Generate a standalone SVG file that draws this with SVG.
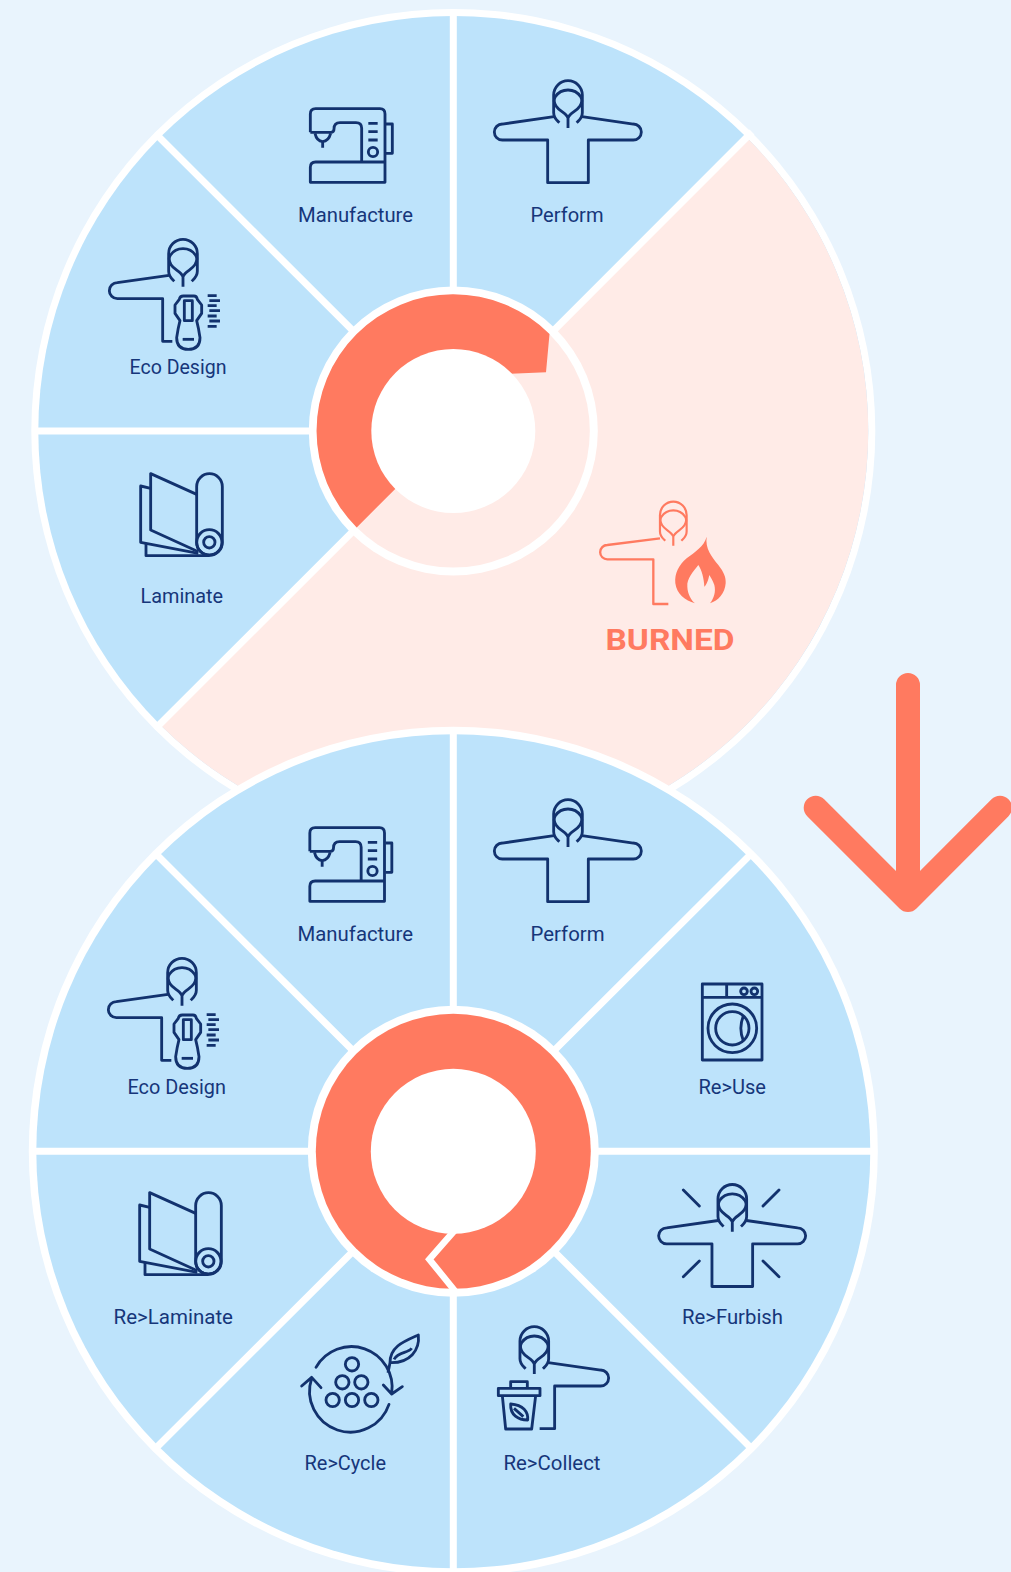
<svg xmlns="http://www.w3.org/2000/svg" xmlns:xlink="http://www.w3.org/1999/xlink" width="1011" height="1572" viewBox="0 0 1011 1572">
<style>
.ln{fill:none;stroke:#12326e;stroke-width:8.5;stroke-linejoin:round}
.co{fill:none;stroke:#ff7a60;stroke-width:7;stroke-linejoin:round}
.wh{stroke:#fff;stroke-width:7;fill:none}
text{font-family:Roboto,"Noto Sans",sans-serif;font-size:20.5px;fill:#16367a}
</style>
<defs>
<g id="hood">
<path d="M-26,126 C-34,118 -43,112 -43,96 V43 A43,43 0 0 1 43,43 V96 C43,112 34,118 26,126"/>
<path d="M0,112 C-6,96 -26,92 -36,76 C-42,66 -42,54 -38,48 C-28,33 -12,28 0,28 C12,28 28,33 38,48 C42,54 42,66 36,76 C26,92 6,96 0,112 Z M0,112 V142"/>
</g>
<g id="armL"><path d="M-42,108 L-197,130 A24,24 0 0 0 -197,178 H-61 V306 H-32"/></g>
<g id="jacket"><use href="#hood"/><path d="M-42,108 L-197,130 A24,24 0 0 0 -197,178 H-61 V306 H61 V178 H196 A24,24 0 0 0 196,130 L42,108"/></g>
<g id="sewing"><g transform="translate(90 70) scale(.33333)" class="ln">
<path d="M661,187 V132 Q661,116 677,116 H870 Q885,116 885,132 V337 H661 V292 Q661,276 677,276 H885"/>
<path d="M661,187 H722 Q732,187 732,177 Q732,158 750,158 H798 Q815,158 815,175 V276"/>
<path d="M888,162 H907 V250 H888"/>
<path d="M835,160 H863 M835,185 H863 M835,210 H863"/>
<circle cx="849" cy="246" r="14"/>
<path d="M675,190 Q680,213 698,215 Q716,213 722,190 M698,215 V233"/>
</g></g>
<g id="lam"><g transform="translate(120 460) scale(.33333)" class="ln">
<rect x="230" y="41" width="77" height="245" rx="38.5"/>
<circle cx="268" cy="247" r="38"/><circle cx="268" cy="247" r="17"/>
<path d="M230,103 L92,41 V210 L235,275"/>
<path d="M92,85 L62,78 V247 L235,280"/>
<path d="M78,252 V287 H268"/>
</g></g>
<g id="eco"><g transform="translate(183 239.3) scale(.33333)" class="ln"><use href="#hood"/><use href="#armL"/></g>
<g transform="translate(90 70) scale(.33333)" class="ln">
<path d="M280,678 H312 Q320,678 322,688 L335,705 V730 L320,752 Q326,775 330,803 Q330,838 295,838 Q260,838 260,803 Q264,775 270,752 L255,730 V705 L268,688 Q270,678 280,678 Z"/>
<path d="M283,752 V692 H307 V752 Z"/>
<path d="M278,808 H312"/>
<path d="M353,677 H380 M358,692 H390 M353,707 H380 M358,722 H390 M353,738 H380 M358,753 H390 M353,769 H380"/>
</g></g>
<g id="perf"><g transform="translate(568 80.7) scale(.33333)" class="ln"><use href="#jacket"/></g></g>
</defs>
<rect id="background" width="1011" height="1572" fill="#e9f4fd"/>

<g id="wheel-top">
<circle cx="453.3" cy="431" r="422" fill="#fff"/>
<circle cx="453.3" cy="431" r="415" fill="#bde3fb"/>
<path d="M453.3,431 L746.8,137.5 A415,415 0 0 1 159.8,724.5 Z" fill="#ffebe7"/>
</g>
<g id="connectors-top" class="wh">
<path d="M453.3,431 V12 M453.3,431 H35 M453.3,431 L155,133 M453.3,431 L752,132 M453.3,431 L155,729"/>
</g>
<g id="hub-top">
<circle cx="453.3" cy="431" r="144.5" fill="#fff"/>
<circle cx="453.3" cy="431" r="136.5" fill="#ffebe7"/>
<path d="M356.7,527.4 A136.5,136.5 0 0 1 549.5,334 L546,372.3 L510.7,373.7 L453.3,431 Z" fill="#ff7a60"/>
<circle cx="453.3" cy="431" r="82" fill="#fff"/>
</g>
<g id="n-laminate"><use href="#lam"/><text x="140.5" y="602.7" textLength="82.5" lengthAdjust="spacingAndGlyphs">Laminate</text></g>
<g id="n-eco"><use href="#eco"/><text x="129.5" y="374" textLength="97" lengthAdjust="spacingAndGlyphs">Eco Design</text></g>
<g id="n-manufacture"><use href="#sewing"/><text x="298" y="221.7" textLength="115" lengthAdjust="spacingAndGlyphs">Manufacture</text></g>
<g id="n-perform"><use href="#perf"/><text x="530.5" y="221.7" textLength="73" lengthAdjust="spacingAndGlyphs">Perform</text></g>
<g id="n-burned">
<g transform="translate(673.3 501.7) scale(.31)" class="co"><use href="#hood"/></g>
<g transform="translate(580 490) scale(.33333)">
<path class="co" d="M240,145 L82,165 A21.5,21.5 0 0 0 82,208 H220 V342 H265"/>
<path fill="#ff7a60" d="M380,140 C375,175 395,200 415,225 C432,247 438,262 437,280 C435,310 415,332 390,340 C402,325 408,305 403,285 C399,272 392,262 388,255 C385,270 380,285 373,290 C372,265 365,240 355,225 C340,245 320,265 322,290 C323,312 333,330 345,340 C315,332 290,312 286,280 C283,250 297,225 320,205 C345,185 372,170 380,140 Z"/>
</g>
<text x="605.5" y="650" textLength="129" lengthAdjust="spacingAndGlyphs" style="font-family:Roboto,sans-serif;font-weight:700;font-size:29px;fill:#ff7a60">BURNED</text>
</g>

<g id="wheel-bottom">
<circle cx="453.3" cy="1151.3" r="424.5" fill="#fff"/>
<circle cx="453.3" cy="1151.3" r="417" fill="#bde3fb"/>
</g>
<g id="connectors-bottom" class="wh">
<path d="M453.3,732 V1572 M32,1151.3 H875 M155,853 L752,1449 M752,853 L155,1449"/>
</g>
<g id="hub-bottom">
<circle cx="453.3" cy="1151.3" r="145.5" fill="#fff"/>
<circle cx="453.3" cy="1151.3" r="137.5" fill="#ff7a60"/>
<path d="M455,1230 L429.3,1259.3 L455,1291" stroke="#fff" stroke-width="6.5" fill="none" stroke-miterlimit="8"/>
<circle cx="453.3" cy="1151.3" r="82.5" fill="#fff"/>
</g>
<g id="n2-manufacture"><use href="#sewing" x="-.5" y="719"/><text x="297.5" y="941" textLength="115.5" lengthAdjust="spacingAndGlyphs">Manufacture</text></g>
<g id="n2-perform"><use href="#perf" y="719"/><text x="530.5" y="941" textLength="74" lengthAdjust="spacingAndGlyphs">Perform</text></g>
<g id="n2-eco"><use href="#eco" x="-1" y="719"/><text x="127.5" y="1094" textLength="98.5" lengthAdjust="spacingAndGlyphs">Eco Design</text></g>
<g id="n2-reuse">
<g transform="translate(640 960) scale(.33333)" class="ln">
<rect x="187" y="72" width="179" height="228"/><path d="M187,112 H366 M260,72 V112"/>
<circle cx="312" cy="94" r="10"/><circle cx="343" cy="94" r="10"/>
<circle cx="277" cy="205" r="73"/><circle cx="277" cy="205" r="50"/>
<path d="M310,168 Q295,205 310,242"/>
</g>
<text x="698.5" y="1094" textLength="67.5" lengthAdjust="spacingAndGlyphs">Re&gt;Use</text></g>
<g id="n2-refurbish">
<g transform="translate(732.3 1184.5) scale(.33333)" class="ln"><use href="#jacket"/></g>
<g transform="translate(640 960) scale(.33333)" class="ln"><path d="M130,690 L178,738 M417,690 L369,738 M130,950 L178,903 M417,950 L369,903" stroke-linecap="round"/></g>
<text x="682" y="1324" textLength="101" lengthAdjust="spacingAndGlyphs">Re&gt;Furbish</text></g>
<g id="n2-recollect">
<g transform="translate(534.3 1326.7) scale(.33333)" class="ln"><use href="#hood"/><path d="M42,108 L199,130 A24,24 0 0 1 199,178 H61 V306 H16"/></g>
<g transform="translate(290 1310) scale(.33333)" class="ln">
<rect x="625" y="235" width="125" height="22"/><path d="M662,235 V215 H712 V235"/>
<path d="M637,257 L647,357 H725 L737,257"/>
<path d="M662,282 C700,285 715,305 713,330 C685,330 660,315 662,282 Z M672,295 L700,320"/>
</g>
<text x="503.5" y="1470" textLength="97" lengthAdjust="spacingAndGlyphs">Re&gt;Collect</text></g>
<g id="n2-recycle">
<g transform="translate(290 1310) scale(.33333)" class="ln">
<circle cx="186" cy="163" r="20"/><circle cx="157" cy="217" r="20"/><circle cx="214" cy="217" r="20"/>
<circle cx="128" cy="270" r="20"/><circle cx="186" cy="270" r="20"/><circle cx="244" cy="270" r="20"/>
<path d="M78,172 A122,122 0 0 1 305,250 M280,225 L305,252 L337,230" stroke-linecap="round"/>
<path d="M297,283 A122,122 0 0 1 65,205 M35,228 L65,202 L93,233" stroke-linecap="round"/>
<path d="M300,158 C300,110 340,95 385,75 C390,120 360,160 300,158 Z M312,148 C325,125 355,130 365,115 M300,158 L294,188"/>
</g>
<text x="304.5" y="1470" textLength="81.5" lengthAdjust="spacingAndGlyphs">Re&gt;Cycle</text></g>
<g id="n2-relaminate"><use href="#lam" x="-1" y="719"/><text x="113.5" y="1324" textLength="119.5" lengthAdjust="spacingAndGlyphs">Re&gt;Laminate</text></g>

<g id="arrow"><path d="M908,685 V900 M815.7,807.7 L908,900 L1000,807.7" fill="none" stroke="#ff7a60" stroke-width="24" stroke-linecap="round" stroke-linejoin="round"/></g>
</svg>
